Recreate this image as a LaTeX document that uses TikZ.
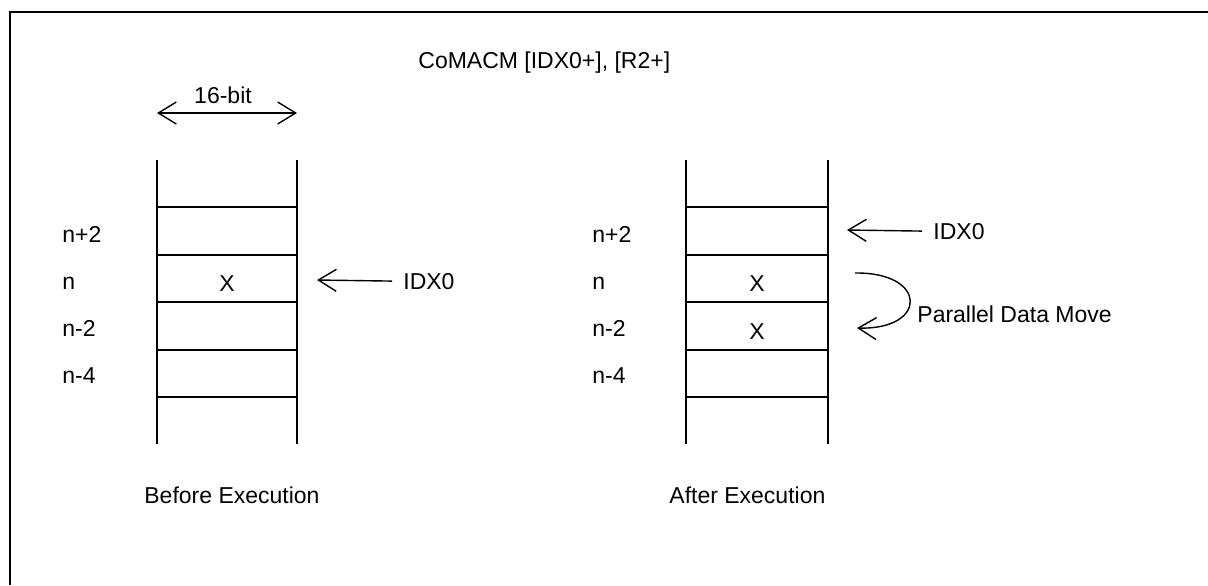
\documentclass[tikz,border=0pt]{standalone}
\usepackage{fontspec}
\setmainfont{Liberation Sans}
\usetikzlibrary{arrows.meta}
\begin{document}
\begin{tikzpicture}[x=0.5pt,y=-0.5pt,font=\fontsize{11.5}{13.5}\selectfont,
  frame/.style={line width=1pt},
  stackline/.style={line width=1pt},
  ptr/.style={line width=0.7pt,-{Straight Barb[length=9pt,width=11pt,line width=0.7pt]}},
  dptr/.style={line width=0.7pt,{Straight Barb[length=9pt,width=11pt,line width=0.7pt]}-{Straight Barb[length=9pt,width=11pt,line width=0.7pt]}},
  lbl/.style={anchor=base west,inner sep=0pt},
  cen/.style={anchor=base,inner sep=0pt}]
\useasboundingbox (0,0) rectangle (1208,585);
\draw[frame] (10,585) -- (10,12) -- (1208,12);
% title
\node[lbl] (title) at (418,68) {CoMACM [IDX0+], [R2+]};
% left stack
\foreach \x in {157,297} \draw[stackline] (\x,160) -- (\x,444);
\foreach \y in {207,255,302,350,397} \draw[stackline] (157,\y) -- (297,\y);
% right stack
\foreach \x in {686,828} \draw[stackline] (\x,160) -- (\x,444);
\foreach \y in {207,255,302,350,397} \draw[stackline] (686,\y) -- (828,\y);
% width arrow
\node[cen] (bits) at (223,103) {16-bit};
\coordinate (wl) at (157,113);
\coordinate (wr) at (297,113);
\draw[dptr] (wl) -- (wr);
% left labels
\node[lbl] (la2) at (62,242) {n+2};
\node[lbl] (la0) at (62,289) {n};
\node[lbl] (lam2) at (62,336) {n-2};
\node[lbl] (lam4) at (62,383) {n-4};
\node[cen] (xa) at (227,291) {X};
\node[lbl] (idxa) at (403,289) {IDX0};
\coordinate (ta) at (317,280);
\draw[ptr] (idxa.west) ++(-11,0) -- (ta);
\node[lbl] (before) at (144,503) {Before Execution};
% right labels
\node[lbl] (lb2) at (592,242) {n+2};
\node[lbl] (lb0) at (592,289) {n};
\node[lbl] (lbm2) at (592,336) {n-2};
\node[lbl] (lbm4) at (592,383) {n-4};
\node[cen] (xb1) at (757,291) {X};
\node[cen] (xb2) at (757,339) {X};
\node[lbl] (idxb) at (933,239) {IDX0};
\coordinate (tb) at (847,230);
\draw[ptr] (idxb.west) ++(-11,0) -- (tb);
\coordinate (ms) at (855,273);
\coordinate (me) at (857,328);
\draw[ptr] (ms) .. controls (928,272) and (928,330) .. (me);
\node[lbl] (pdm) at (917,322) {Parallel Data Move};
\node[lbl] (after) at (669,503) {After Execution};
\end{tikzpicture}
\end{document}
